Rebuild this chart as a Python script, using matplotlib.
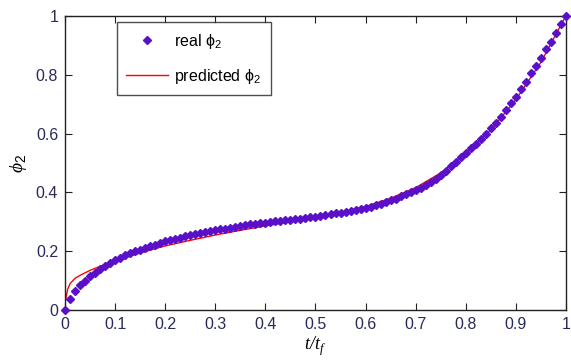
import numpy as np
import matplotlib
matplotlib.use("Agg")
import matplotlib.pyplot as plt

# real phi_2 samples at t/tf = 0.00 ... 1.00 (step 0.01)
t_real = [i / 100 for i in range(101)]
phi_real = [
    0.000, 0.038, 0.064, 0.084, 0.099, 0.114, 0.127, 0.140, 0.151, 0.160,
    0.169, 0.178, 0.187, 0.194, 0.199, 0.204, 0.211, 0.216, 0.222, 0.228,
    0.233, 0.237, 0.241, 0.246, 0.251, 0.256, 0.260, 0.263, 0.266, 0.269,
    0.271, 0.274, 0.277, 0.280, 0.283, 0.286, 0.289, 0.291, 0.293, 0.295,
    0.297, 0.299, 0.301, 0.303, 0.305, 0.307, 0.309, 0.311, 0.313, 0.315,
    0.317, 0.320, 0.323, 0.326, 0.329, 0.331, 0.334, 0.337, 0.340, 0.344,
    0.348, 0.351, 0.356, 0.361, 0.367, 0.373, 0.379, 0.386, 0.393, 0.400,
    0.408, 0.416, 0.425, 0.434, 0.446, 0.459, 0.474, 0.489, 0.505, 0.521,
    0.535, 0.550, 0.564, 0.580, 0.599, 0.618, 0.637, 0.657, 0.680, 0.703,
    0.726, 0.752, 0.777, 0.805, 0.830, 0.856, 0.887, 0.913, 0.941, 0.972,
    1.000,
]

# predicted phi_2 curve
t_pred = [0.0, 0.005, 0.01, 0.02, 0.03, 0.05, 0.075, 0.10, 0.15, 0.20, 0.25,
          0.30, 0.35, 0.40, 0.45, 0.50, 0.55, 0.60, 0.65, 0.70, 0.75, 0.80,
          0.85, 0.90, 0.95, 1.00]
phi_pred = [0.025, 0.070, 0.090, 0.108, 0.118, 0.135, 0.152, 0.166, 0.194,
            0.218, 0.237, 0.255, 0.271, 0.286, 0.300, 0.315, 0.332, 0.352,
            0.380, 0.416, 0.466, 0.532, 0.612, 0.715, 0.842, 1.000]

x_ticks = [0, 0.1, 0.2, 0.3, 0.4, 0.5, 0.6, 0.7, 0.8, 0.9, 1]
x_tick_labels = ["0", "0.1", "0.2", "0.3", "0.4", "0.5", "0.6", "0.7", "0.8", "0.9", "1"]
y_ticks = [0, 0.2, 0.4, 0.6, 0.8, 1]
y_tick_labels = ["0", "0.2", "0.4", "0.6", "0.8", "1"]

plt.rcParams['font.family'] = ['Liberation Sans', 'DejaVu Sans']
plt.rcParams['mathtext.fontset'] = 'custom'
plt.rcParams['mathtext.rm'] = 'Liberation Sans'
plt.rcParams['mathtext.it'] = 'Liberation Sans'

fig = plt.figure(figsize=(5.71, 3.62), dpi=100)
ax = fig.add_axes([0.114, 0.1436, 0.877, 0.8124])

ax.plot(t_pred, phi_pred, color='#ff0000', lw=1.0, label='predicted \u03d5$_\\mathregular{2}$', zorder=2)
ax.plot(t_real, phi_real, linestyle='none', marker='D', ms=3.6, color='#5a10c8',
        mec='#5a10c8', label='real \u03d5$_\\mathregular{2}$', zorder=3, clip_on=False)

ax.set_xlim(0, 1)
ax.set_ylim(0, 1)
ax.set_xticks(x_ticks)
ax.set_xticklabels(x_tick_labels)
ax.set_yticks(y_ticks)
ax.set_yticklabels(y_tick_labels)
ax.tick_params(direction='in', length=5, width=0.8, top=True, right=True,
               labelsize=11.5, colors='#222222', labelcolor='#2a2a5a', pad=5)
for s in ax.spines.values():
    s.set_color('#222222')
    s.set_linewidth(1.0)

ax.set_xlabel('t/t$_\\mathregular{f}$', family=['Liberation Serif'], style='italic',
              fontsize=13, labelpad=2)
ax.set_ylabel('\u03d5$_2$', family=['Liberation Serif', 'DejaVu Serif'], style='italic',
              fontsize=14, labelpad=5)

handles, labels = ax.get_legend_handles_labels()
leg = ax.legend(handles[::-1], labels[::-1], loc='upper left',
                bbox_to_anchor=(0.103, 0.979), fontsize=11.5, frameon=True,
                fancybox=False, borderpad=0.6, labelspacing=1.0,
                handlelength=2.6, handletextpad=0.4, borderaxespad=0.0,
                edgecolor='#222222', numpoints=1)
leg.get_frame().set_linewidth(1.0)

fig.savefig('out.png', dpi=100)
